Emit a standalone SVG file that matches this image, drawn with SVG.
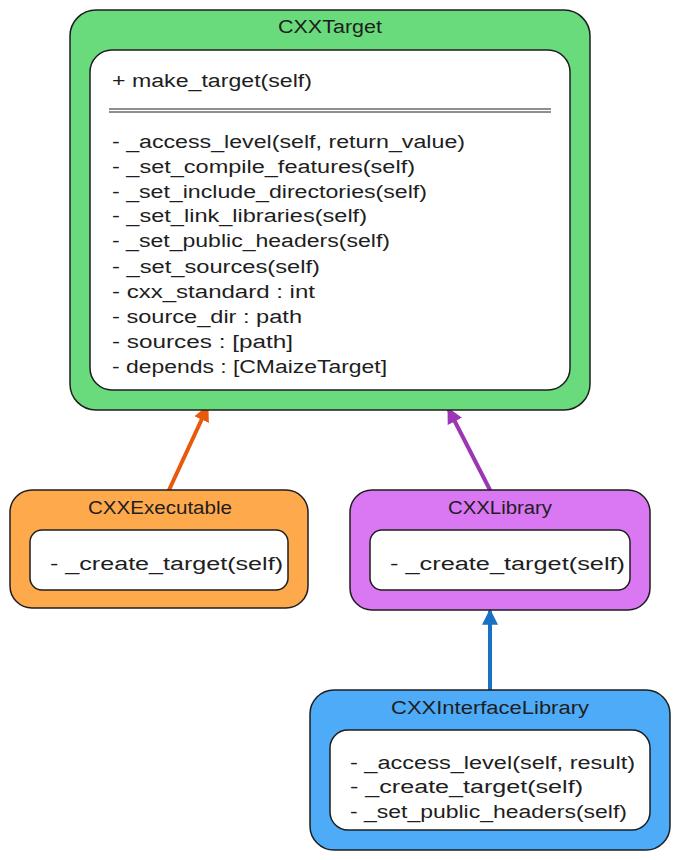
<svg xmlns="http://www.w3.org/2000/svg" width="680" height="860" viewBox="0 0 680 860">
<style>
.outer{stroke:#1e1e1e;stroke-width:1.5}
.inner{fill:#ffffff;stroke:#1e1e1e;stroke-width:1.5}
text{font-family:"Liberation Sans",Arial,sans-serif;font-size:18px;fill:#1e1e1e}
.t{text-anchor:middle}
.c{fill:none;stroke-width:4;stroke-linecap:round}
</style>
<defs>
<marker id="ao" viewBox="0 0 10 10" refX="8" refY="5" markerWidth="4" markerHeight="4" orient="auto"><path d="M0,0 L10,5 L0,10 Z" fill="#e8590c"/></marker>
<marker id="ap" viewBox="0 0 10 10" refX="8" refY="5" markerWidth="4" markerHeight="4" orient="auto"><path d="M0,0 L10,5 L0,10 Z" fill="#9c36b5"/></marker>
<marker id="ab" viewBox="0 0 10 10" refX="8" refY="5" markerWidth="4" markerHeight="4" orient="auto"><path d="M0,0 L10,5 L0,10 Z" fill="#1971c2"/></marker>
</defs>
<g id="connectors">
<line class="c" x1="169" y1="490" x2="207" y2="408" stroke="#e8590c" marker-end="url(#ao)"/>
<line class="c" x1="490" y1="490" x2="449" y2="410" stroke="#9c36b5" marker-end="url(#ap)"/>
<line class="c" x1="490" y1="690" x2="490" y2="612" stroke="#1971c2" marker-end="url(#ab)"/>
</g>
<g id="CXXTarget">
<rect class="outer" x="70" y="10" width="520" height="400" rx="26" fill="#69db7c"/>
<text class="t" x="330" y="33" textLength="104" lengthAdjust="spacingAndGlyphs">CXXTarget</text>
<rect class="inner" x="90" y="50" width="480" height="340" rx="22"/>
<text x="112" y="87" textLength="200" lengthAdjust="spacingAndGlyphs">+ make_target(self)</text>
<line x1="109" y1="109" x2="551" y2="109" stroke="#1e1e1e" stroke-width="1"/>
<line x1="109" y1="112" x2="551" y2="112" stroke="#1e1e1e" stroke-width="1"/>
<text x="112" y="148" textLength="353" lengthAdjust="spacingAndGlyphs">- _access_level(self, return_value)</text>
<text x="112" y="173" textLength="303" lengthAdjust="spacingAndGlyphs">- _set_compile_features(self)</text>
<text x="112" y="198" textLength="315" lengthAdjust="spacingAndGlyphs">- _set_include_directories(self)</text>
<text x="112" y="222" textLength="255" lengthAdjust="spacingAndGlyphs">- _set_link_libraries(self)</text>
<text x="112" y="247" textLength="278" lengthAdjust="spacingAndGlyphs">- _set_public_headers(self)</text>
<text x="112" y="273" textLength="208" lengthAdjust="spacingAndGlyphs">- _set_sources(self)</text>
<text x="112" y="298" textLength="203" lengthAdjust="spacingAndGlyphs">- cxx_standard : int</text>
<text x="112" y="323" textLength="190" lengthAdjust="spacingAndGlyphs">- source_dir : path</text>
<text x="112" y="348" textLength="181" lengthAdjust="spacingAndGlyphs">- sources : [path]</text>
<text x="112" y="373" textLength="275" lengthAdjust="spacingAndGlyphs">- depends : [CMaizeTarget]</text>
</g>
<g id="CXXExecutable">
<rect class="outer" x="10" y="490" width="298" height="118" rx="22" fill="#ffa94d"/>
<text class="t" x="160" y="514" textLength="144" lengthAdjust="spacingAndGlyphs">CXXExecutable</text>
<rect class="inner" x="30" y="530" width="258" height="60" rx="12"/>
<text x="50" y="570" textLength="233" lengthAdjust="spacingAndGlyphs">- _create_target(self)</text>
</g>
<g id="CXXLibrary">
<rect class="outer" x="350" y="490" width="300" height="120" rx="22" fill="#da77f2"/>
<text class="t" x="500" y="514" textLength="104" lengthAdjust="spacingAndGlyphs">CXXLibrary</text>
<rect class="inner" x="370" y="530" width="260" height="60" rx="12"/>
<text x="390" y="570" textLength="235" lengthAdjust="spacingAndGlyphs">- _create_target(self)</text>
</g>
<g id="CXXInterfaceLibrary">
<rect class="outer" x="310" y="690" width="360" height="160" rx="24" fill="#4dabf7"/>
<text class="t" x="490" y="714" textLength="198" lengthAdjust="spacingAndGlyphs">CXXInterfaceLibrary</text>
<rect class="inner" x="330" y="730" width="320" height="100" rx="18"/>
<text x="350" y="769" textLength="285" lengthAdjust="spacingAndGlyphs">- _access_level(self, result)</text>
<text x="350" y="793" textLength="233" lengthAdjust="spacingAndGlyphs">- _create_target(self)</text>
<text x="350" y="818" textLength="277" lengthAdjust="spacingAndGlyphs">- _set_public_headers(self)</text>
</g>
</svg>
